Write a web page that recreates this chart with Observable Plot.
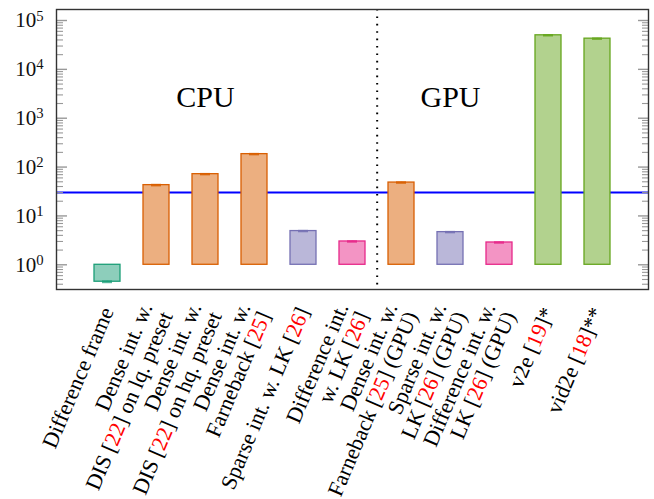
<!DOCTYPE html>
<html><head><meta charset="utf-8">
<script src="https://cdn.jsdelivr.net/npm/d3@7"></script>
<script src="https://cdn.jsdelivr.net/npm/@observablehq/plot@0.6"></script>
<style>
body{margin:0;background:#fff}
svg{font-family:"Liberation Serif",serif}
</style>
</head><body><div id="chart"></div>
<script>
// ---- data ----
const methods = [
  "Difference frame",
  "Dense int. w.\nDIS [22] on lq. preset",
  "Dense int. w.\nDIS [22] on hq. preset",
  "Dense int. w.\nFarneback [25]",
  "Sparse int. w. LK [26]",
  "Difference int.\nw. LK [26]",
  "Dense int. w.\nFarneback [25] (GPU)",
  "Sparse int. w.\nLK [26] (GPU)",
  "Difference int. w.\nLK [26] (GPU)",
  "v2e [19]*",
  "vid2e [18]**"
];
const groups = ["diff", "dense", "dense", "dense", "sparse", "difflk", "dense", "sparse", "difflk", "event", "event"];
const values = [0.45, 42.7, 71.6, 184, 4.9, 3.0, 48.2, 4.66, 2.86, 49800, 42500];
const errors = [0.01, 0.7, 0.9, 2.5, 0.06, 0.04, 0.7, 0.06, 0.04, 700, 600];
const realTimeFps = [30];
const sections = ["CPU", "GPU"];
const sectionCentres = [methods[2], methods[7]];
const yTicks = [1, 10, 100, 1000, 10000, 100000];
const yTickExps = ["0", "1", "2", "3", "4", "5"];
const yMinorTicks = [0.4, 0.5, 0.6, 0.7, 0.8, 0.9,
  2, 3, 4, 5, 6, 7, 8, 9, 20, 30, 40, 50, 60, 70, 80, 90,
  200, 300, 400, 500, 600, 700, 800, 900, 2000, 3000, 4000, 5000, 6000, 7000, 8000, 9000,
  20000, 30000, 40000, 50000, 60000, 70000, 80000, 90000];
const groupDomain = ["diff", "dense", "sparse", "difflk", "event"];
const groupColors = ["#1b9e77", "#d95f02", "#7570b3", "#e7298a", "#66a61e"];

const rows = methods.map((m, i) => ({method: m, group: groups[i], value: values[i], lo: values[i] - errors[i], hi: values[i] + errors[i]}));

const W = 654, H = 499, mL = 56, mR = 6, mT = 9, mB = 210;
const step = (W - mL - mR) / 12;

const plot = Plot.plot({
  width: W, height: H,
  marginLeft: mL, marginRight: mR, marginTop: mT, marginBottom: mB,
  style: {fontFamily: "Liberation Serif, serif", background: "#fff"},
  x: {type: "band", domain: methods, paddingInner: 0.46, paddingOuter: 0.73, axis: null},
  y: {type: "log", domain: [0.312, 168000], axis: null},
  color: {domain: groupDomain, range: groupColors},
  marks: [
    Plot.ruleY(realTimeFps, {stroke: "#0000ff", strokeWidth: 2}),
    Plot.barY(rows, {x: "method", y1: () => 1, y2: "value", fill: "white"}),
    Plot.barY(rows, {x: "method", y1: () => 1, y2: "value", fill: "group", fillOpacity: 0.5, stroke: "group", strokeWidth: 1.3}),
    Plot.ruleX(rows, {x: "method", y1: "lo", y2: "hi", stroke: "group", strokeWidth: 1.5, strokeOpacity: 0.7}),
    Plot.tickY(rows, {x: "method", y: "hi", stroke: "group", strokeWidth: 2, strokeOpacity: 0.7, insetLeft: 8, insetRight: 8}),
    Plot.tickY(rows, {x: "method", y: "lo", stroke: "group", strokeWidth: 2, strokeOpacity: 0.7, insetLeft: 8, insetRight: 8}),
    Plot.ruleX([methods[5]], {dx: step / 2, stroke: "black", strokeWidth: 2, strokeDasharray: "1.6,5.8"}),
    Plot.axisY({anchor: "left", ticks: yMinorTicks, tickSize: 7, dx: 7, text: null, stroke: "#999", strokeWidth: 1.1}),
    Plot.axisY({anchor: "left", ticks: yTicks, tickSize: 11, dx: 11, text: null, stroke: "#999", strokeWidth: 1.4}),
    Plot.axisY({anchor: "right", ticks: yMinorTicks, tickSize: 7, dx: -7, text: null, stroke: "#999", strokeWidth: 1.1}),
    Plot.axisY({anchor: "right", ticks: yTicks, tickSize: 11, dx: -11, text: null, stroke: "#999", strokeWidth: 1.4}),
    Plot.axisY({anchor: "left", ticks: yTicks, tickSize: 0, tickPadding: 13, label: null,
      tickFormat: d => "10^" + yTickExps[yTicks.indexOf(d)], fontSize: 21, fill: "#111"}),
    Plot.frame({stroke: "#333", strokeWidth: 1.4}),
    Plot.text(sections, {x: (d, i) => sectionCentres[i], text: d => d, frameAnchor: "top", lineAnchor: "bottom", dy: 97,
      fontSize: 30, fill: "#000", textAnchor: "middle"}),
    Plot.text(rows, {x: "method", text: "method", frameAnchor: "bottom", dy: 19, dx: 0, rotate: -67,
      textAnchor: "end", lineAnchor: "middle", lineHeight: 1.0, fontSize: 22, fill: "#000"})
  ]
});

// superscript exponents on y tick labels; red citation numbers in method labels
const redify = el => { el.innerHTML = el.textContent.replace(/\[(\d+)\]/g, '[<tspan fill="red">$1</tspan>]'); };
plot.querySelectorAll("text").forEach(t => {
  const s = t.textContent;
  const m = s.match(/^10\^(\S+)$/);
  if (m) { t.innerHTML = `10<tspan dy="-0.45em" font-size="0.7em">${m[1]}</tspan>`; return; }
  if (/\[\d+\]/.test(s)) {
    const spans = t.querySelectorAll("tspan");
    if (spans.length) spans.forEach(sp => { if (/\[\d+\]/.test(sp.textContent)) redify(sp); });
    else redify(t);
  }
});

document.getElementById("chart").appendChild(plot);
</script>
</body></html>
